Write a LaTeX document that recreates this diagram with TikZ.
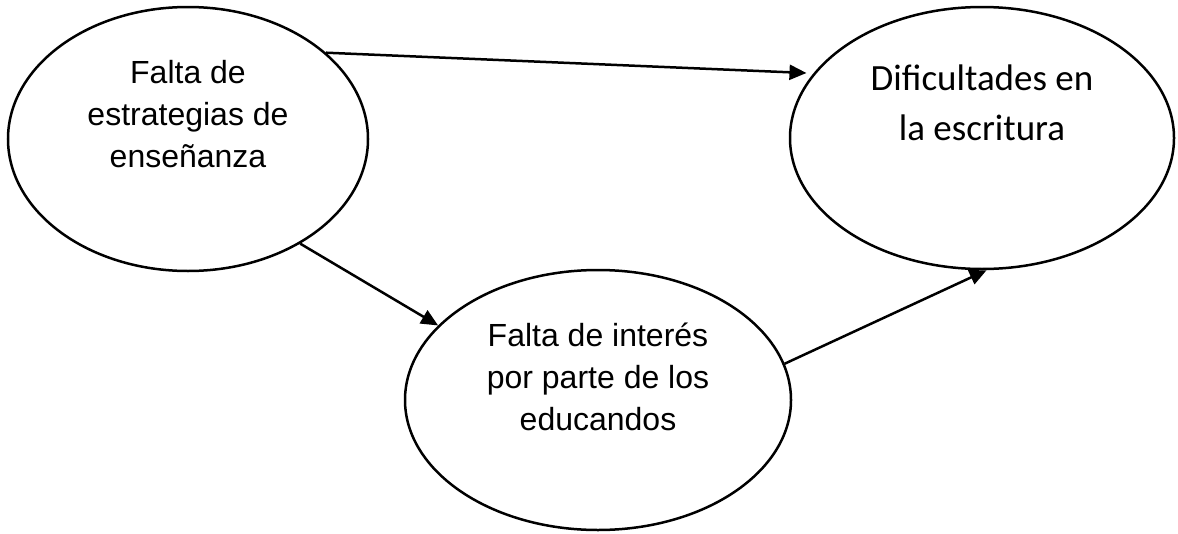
\documentclass[tikz,border=0pt]{standalone}
\usepackage{fontspec}
\setmainfont{Liberation Sans}
\newfontfamily\calibri{Carlito}
\usetikzlibrary{shapes.geometric,arrows.meta}

\begin{document}
\begin{tikzpicture}[x=1pt,y=-1pt,
  burbuja/.style={draw, ellipse, line width=2.5pt, inner sep=0pt},
  texto/.style={align=center, inner sep=0pt, font=\fontsize{32}{42}\selectfont},
  flecha/.style={line width=2.5pt, -{Triangle[length=17pt,width=15pt]}}]
\useasboundingbox (0,0) rectangle (1178,533);
%
\node[burbuja, minimum width=360pt, minimum height=264pt] (estrategias) at (188,139) {};
\node[burbuja, minimum width=384pt, minimum height=262pt] (dificultades) at (982,138) {};
\node[burbuja, minimum width=386pt, minimum height=260pt] (interes) at (598,400) {};
%
\node[texto] (estrategias-txt) at (188,114) {Falta de\\estrategias de\\enseñanza};
\node[texto, font=\calibri\fontsize{37}{50}\selectfont] (dificultades-txt) at (982,103) {Dificultades en\\la escritura};
\node[texto] (interes-txt) at (598,377) {Falta de interés\\por parte de los\\educandos};
%
\draw[flecha, shorten >=7pt] (estrategias.32) -- (dificultades.159);
\draw[flecha] (estrategias.-43) -- (interes.155);
\draw[flecha] (interes.11) -- (dificultades.-88);
\end{tikzpicture}
\end{document}
